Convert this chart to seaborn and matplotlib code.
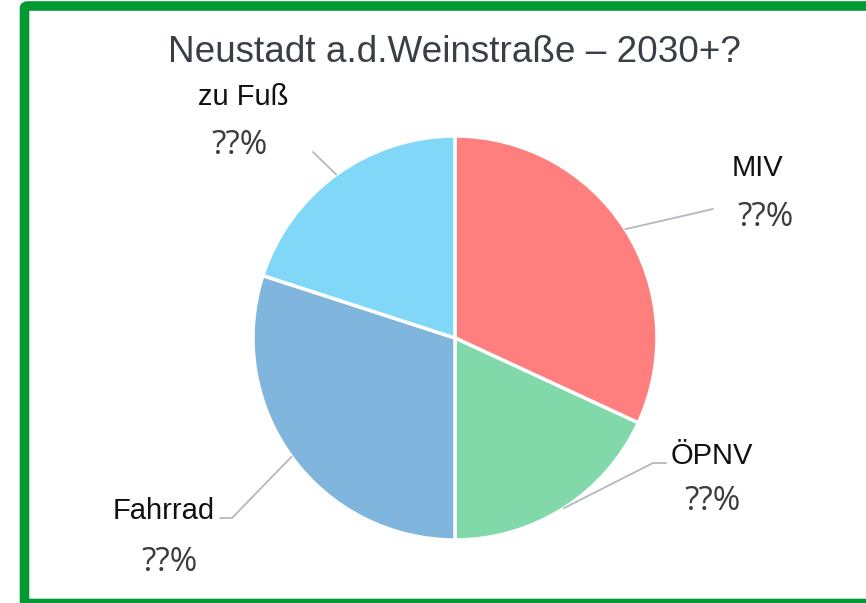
import numpy as np
import matplotlib
matplotlib.use("Agg")
import matplotlib.pyplot as plt
import matplotlib.patches as mpatches
from matplotlib.lines import Line2D
import seaborn as sns

# ---- data ----
categories = ["MIV", "ÖPNV", "Fahrrad", "zu Fuß"]
shares = [31.9, 18.1, 30.0, 20.0]
value_labels = ["??%", "??%", "??%", "??%"]
colors = ["#FF7F7F", "#81D9A9", "#80B6DE", "#81D7F8"]
title = "Neustadt a.d.Weinstraße – 2030+?"

sns.set_style("white")
plt.rcParams["font.family"] = ["Liberation Sans", "DejaVu Sans"]

W, H = 866, 603
fig = plt.figure(figsize=(W / 100, H / 100), dpi=100)
fig.patch.set_facecolor("white")

def fx(x):
    return x / W

def fy(y):
    return 1 - y / H

cx, cy, r = 455, 338, 202
ax = fig.add_axes([fx(cx - r), fy(cy + r), 2 * r / W, 2 * r / H])
wedges, _ = ax.pie(shares, colors=colors, startangle=90, counterclock=False,
                   radius=1, wedgeprops=dict(edgecolor="white", linewidth=2.5))
ax.set_xlim(-1, 1)
ax.set_ylim(-1, 1)
ax.set_aspect("equal")
ax.axis("off")

# green frame
frame = mpatches.FancyBboxPatch((fx(24.5), fy(603.5)), fx(880) - fx(24.5), fy(6) - fy(603.5),
                                boxstyle="round,pad=0,rounding_size=0.004",
                                transform=fig.transFigure, fill=False,
                                edgecolor="#009A33", linewidth=6.9, clip_on=False)
fig.patches.append(frame)

fig.text(fx(454), fy(62), title, ha="center", va="baseline", fontsize=26.6,
         color="#3A3F47")

# label layout (pixel positions)
name_pos = [(757, 176), (712, 464), (164, 519), (243, 105)]
val_pos = [(766, 226), (713, 510), (170, 571), (240, 154)]
elbows = [[(713, 209)], [(653, 463), (666, 463)], [(232, 518), (220, 518)], [(313, 152)]]

for i, w in enumerate(wedges):
    mid = np.deg2rad((w.theta1 + w.theta2) / 2)
    sx = cx + r * np.cos(mid)
    sy = cy - r * np.sin(mid)
    pts = [(sx, sy)] + elbows[i]
    fig.add_artist(Line2D([fx(p[0]) for p in pts], [fy(p[1]) for p in pts],
                          transform=fig.transFigure, color="#B4B8C0", linewidth=1.3))
    fig.text(fx(name_pos[i][0]), fy(name_pos[i][1]), categories[i], ha="center",
             va="baseline", fontsize=21, color="#111111")
    fig.text(fx(val_pos[i][0]), fy(val_pos[i][1]), value_labels[i], ha="center",
             va="baseline", fontsize=24, color="#3C3C3C",
             family=["Open Sans", "DejaVu Sans"])

fig.savefig("out.png", dpi=100)
